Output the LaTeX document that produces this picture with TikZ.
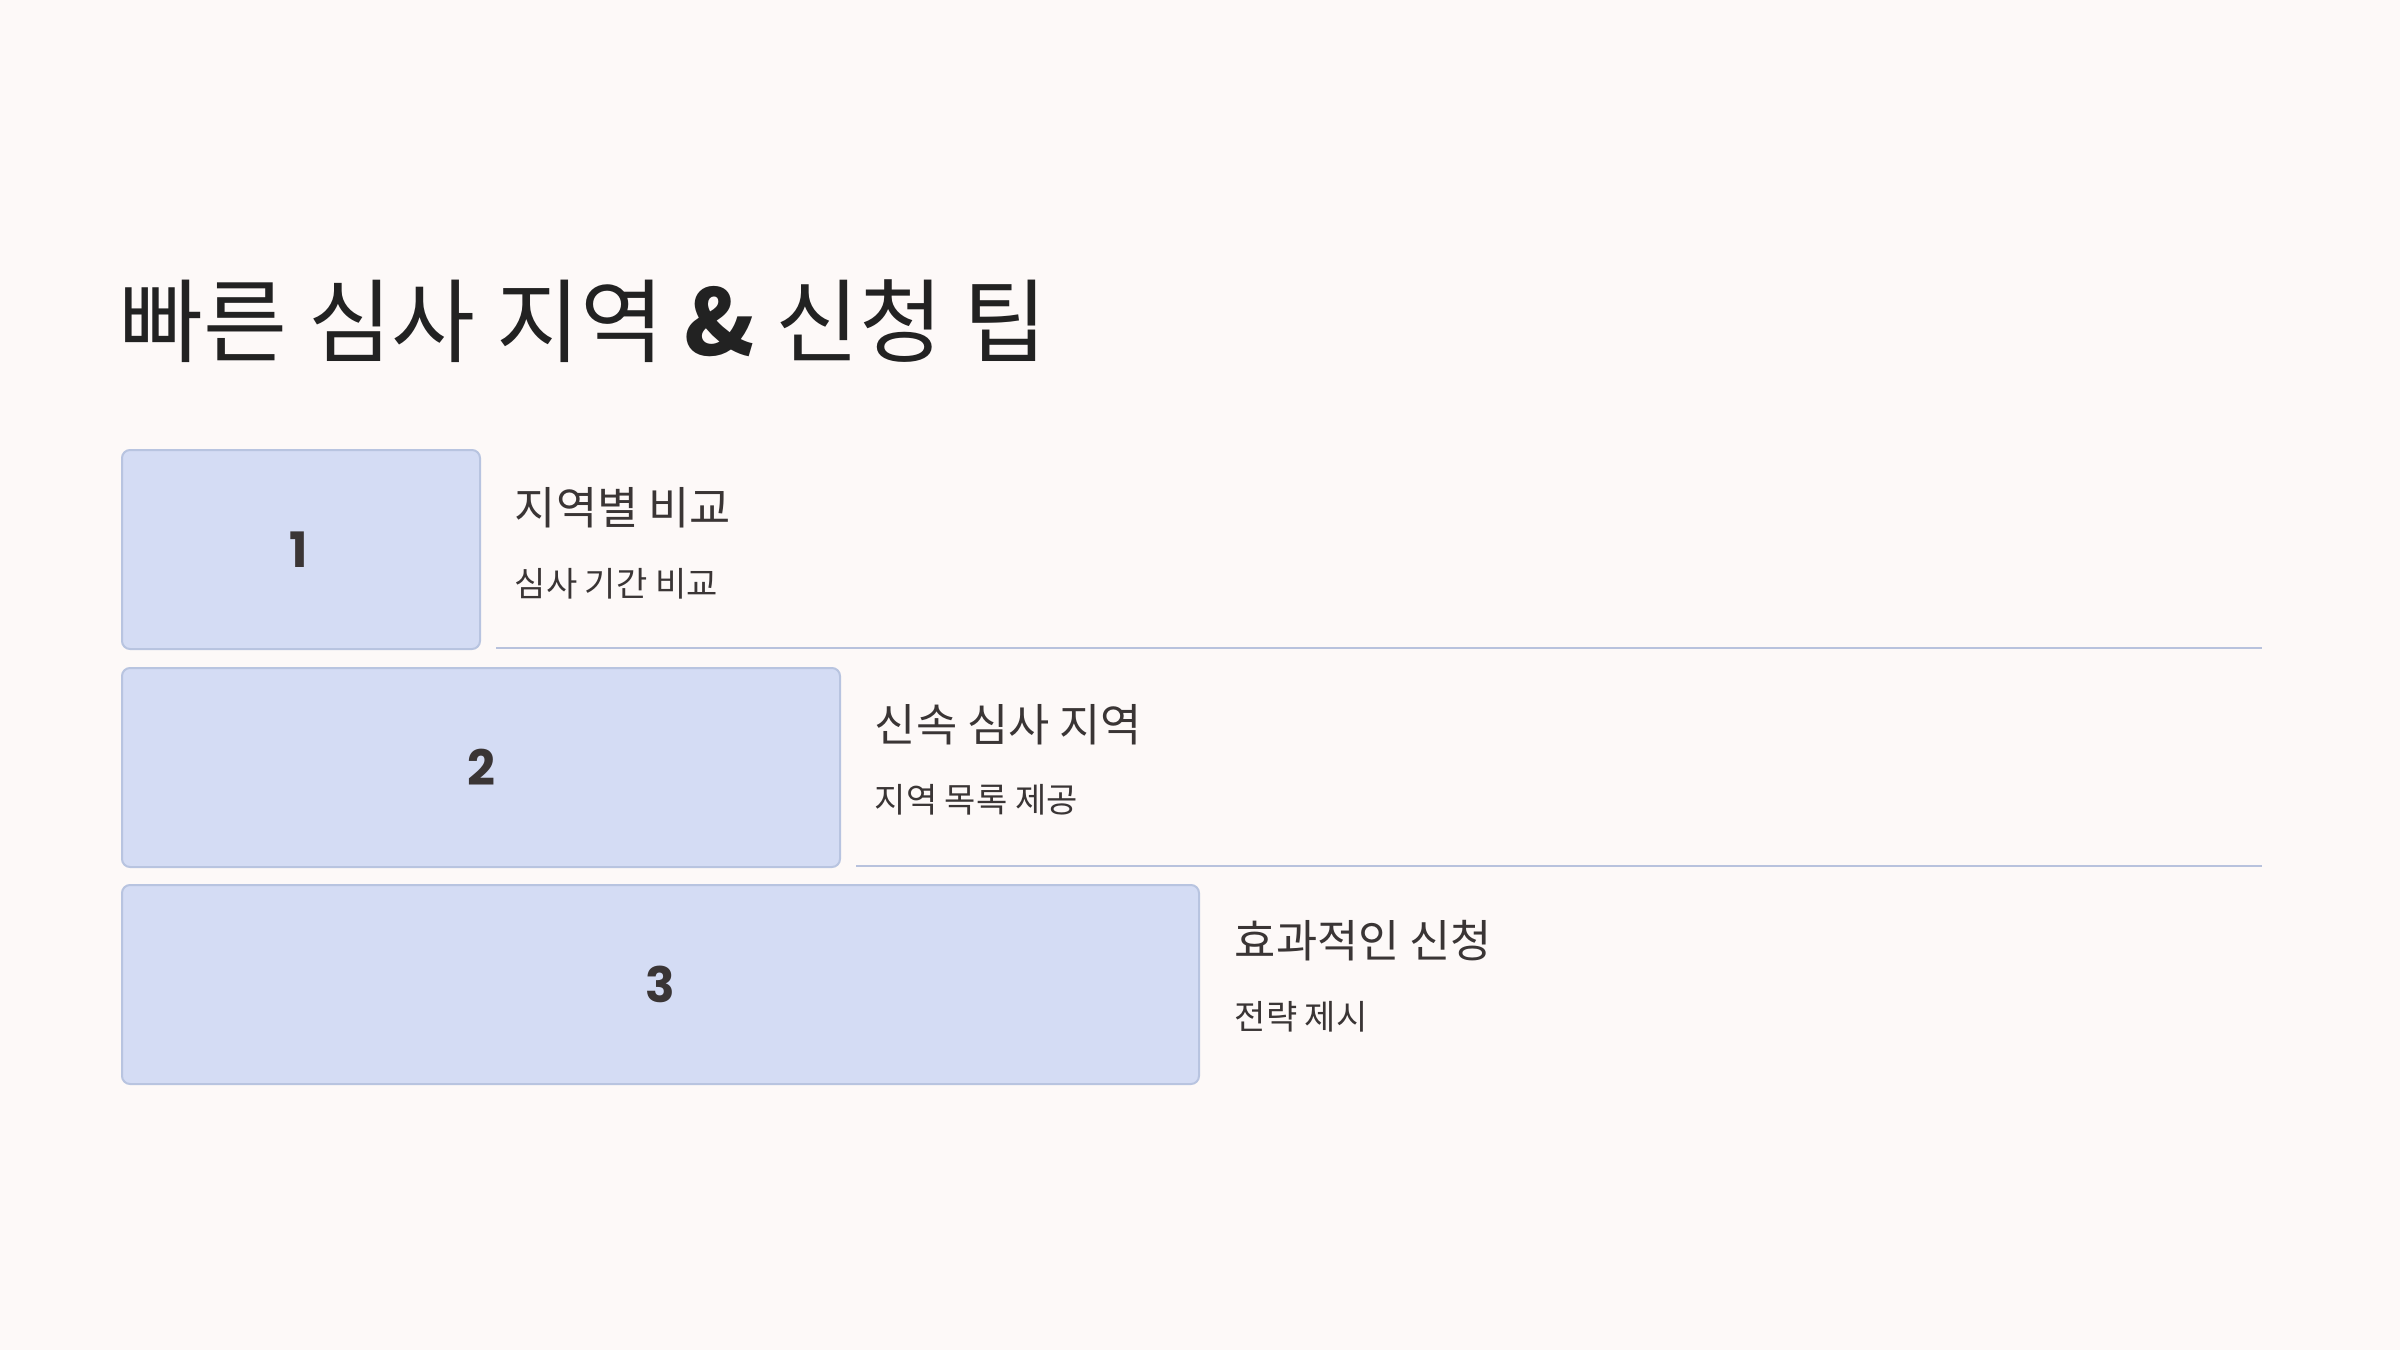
\documentclass[tikz,border=0pt]{standalone}
\usepackage{fontspec}
\setmainfont{Noto Sans CJK KR}
\newfontfamily\numfont{Poppins}
\definecolor{bgc}{HTML}{FDF9F8}
\definecolor{boxfill}{HTML}{D4DCF4}
\definecolor{boxedge}{HTML}{B8C4E0}
\definecolor{sepc}{HTML}{B8C2DD}
\definecolor{titlec}{HTML}{222222}
\definecolor{textc}{HTML}{3A3535}
\tikzset{
  stepbox/.style={draw=boxedge, line width=0.5pt, fill=boxfill, rounded corners=2pt,
    anchor=north west, inner sep=0pt},
  numtxt/.style={font=\numfont\bfseries\fontsize{12.2}{14}\selectfont, text=textc},
  headtxt/.style={font=\fontsize{11.2}{12}\selectfont, text=textc, anchor=west, inner sep=0pt},
  subtxt/.style={font=\fontsize{8.5}{9}\selectfont, text=textc, anchor=west, inner sep=0pt},
  sepline/.style={draw=sepc, line width=0.5pt}
}
\begin{document}
\begin{tikzpicture}[x=0.25pt,y=-0.25pt]
\fill[bgc] (0,0) rectangle (2400,1350);
\useasboundingbox (0,0) rectangle (2400,1350);
\node[anchor=west, inner sep=0pt, text=titlec, font=\fontsize{22.8}{24}\selectfont] (title) at (119,321) {빠른 심사 지역 {\bfseries\&} 신청 팁};
% boxes
\node[stepbox, minimum width=358*0.25pt, minimum height=199*0.25pt] (b1) at (121,449) {};
\node[stepbox, minimum width=718*0.25pt, minimum height=199*0.25pt] (b2) at (121,667) {};
\node[stepbox, minimum width=1077*0.25pt, minimum height=199*0.25pt] (b3) at (121,884) {};
\node[numtxt] (n1) at ([xshift=-0.5pt]b1.center) {1};
\node[numtxt] (n2) at (b2.center) {2};
\node[numtxt] (n3) at (b3.center) {3};
% texts
\node[headtxt] (h1) at (514,508) {지역별 비교};
\node[subtxt] (s1) at (514,584) {심사 기간 비교};
\node[headtxt] (h2) at (874,725) {신속 심사 지역};
\node[subtxt] (s2) at (874,800) {지역 목록 제공};
\node[headtxt] (h3) at (1234,941) {효과적인 신청};
\node[subtxt] (s3) at (1234,1017) {전략 제시};
% separators
\coordinate (l1a) at (496,648);
\coordinate (l1b) at (2262,648);
\coordinate (l2a) at (856,866);
\coordinate (l2b) at (2262,866);
\draw[sepline] (l1a) -- (l1b);
\draw[sepline] (l2a) -- (l2b);
\end{tikzpicture}
\end{document}
